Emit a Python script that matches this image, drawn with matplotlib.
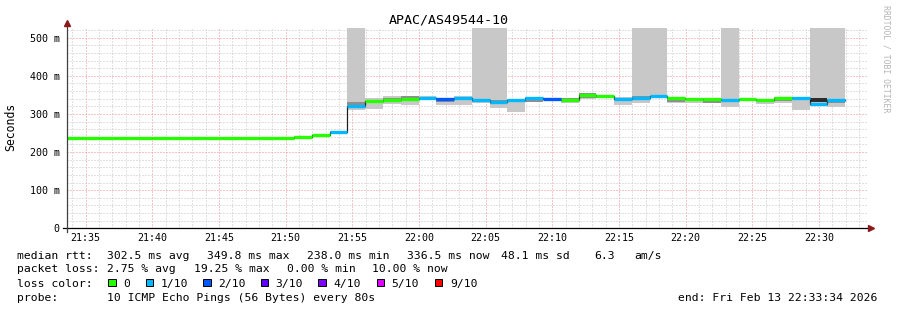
import numpy as np
import matplotlib
matplotlib.use("Agg")
import matplotlib.pyplot as plt
from matplotlib.patches import Rectangle

# ---------------- data ----------------
title = "APAC/AS49544-10"
y_label = "Seconds"
watermark = "RRDTOOL / TOBI OETIKER"
graph_start = "21:33:34"
graph_seconds = 3600
first_bin_start = "21:33:18"
bin_seconds = 80
y_max_ms = 526
y_ticks_ms = [0, 100, 200, 300, 400, 500]
x_tick_labels = ["21:35", "21:40", "21:45", "21:50", "21:55", "22:00",
                 "22:05", "22:10", "22:15", "22:20", "22:25", "22:30"]

median_ms = [238.0, 238.0, 238.0, 238.0, 238.0, 238.0, 238.0, 238.0, 238.0, 238.0,
             238.0, 238.0, 238.0, 239.5, 244.0, 252.0, 320.0, 333.0, 337.0, 339.0,
             341.0, 339.0, 343.0, 337.0, 331.0, 336.0, 341.0, 340.0, 336.0, 349.8,
             346.0, 340.0, 341.0, 346.0, 342.0, 339.0, 339.0, 337.0, 338.0, 337.0,
             341.0, 341.0, 327.0, 336.5]
lost_pings = [0, 0, 0, 0, 0, 0, 0, 0, 0, 0,
              0, 0, 0, 0, 0, 1, 1, 0, 0, 0,
              1, 2, 1, 1, 1, 1, 1, 2, 0, 0,
              0, 1, 1, 1, 0, 0, 0, 1, 0, 0,
              0, 1, 1, 1]
smoke_lo_ms = [238, 238, 238, 238, 238, 238, 238, 238, 238, 238,
               238, 238, 238, 238, 242, 250, 310, 313, 326, 323,
               336, 323, 323, 330, 316, 306, 331, 336, 330, 339,
               342, 323, 330, 342, 328, 330, 330, 319, 335, 325,
               330, 310, 320, 319]
smoke_hi_ms = [238, 238, 238, 238, 238, 238, 238, 238, 238, 238,
               238, 238, 238, 241, 246, 254, 331, 341, 347, 347,
               346, 341, 348, 340, 336, 340, 344, 342, 343, 355,
               349, 344, 346, 349, 344, 342, 343, 338, 341, 339,
               344, 345, 341, 339]
core_lo_ms = [238, 238, 238, 238, 238, 238, 238, 238, 238, 238,
              238, 238, 238, 239, 244, 252, 323, 333, 335, 337,
              341, 332, 343, 332, 326, 336, 332, 340, 336, 341,
              342, 340, 336, 346, 332, 339, 330, 333, 338, 337,
              333, 341, 331, 330]
core_hi_ms = [238, 238, 238, 238, 238, 238, 238, 238, 238, 238,
              238, 238, 238, 239, 244, 252, 331, 333, 342, 347,
              341, 340, 343, 340, 336, 336, 338, 340, 343, 355,
              347, 340, 346, 346, 340, 339, 337, 338, 338, 337,
              340, 341, 341, 336]
offscale = [False] * 16 + [True] + [False] * 6 + [True, True] + [False] * 7 + \
           [True, True] + [False] * 3 + [True] + [False] * 4 + [True, True]
core_shade_override = {42: "#2c2c2c"}

loss_labels = ["0", "1/10", "2/10", "3/10", "4/10", "5/10", "9/10"]
loss_levels = [0, 1, 2, 3, 4, 5, 9]
loss_colors = ["#26ff00", "#00b8ff", "#0059ff", "#5e00ff", "#7e00ff", "#dd00ff", "#ff0000"]

rtt_items = ["302.5 ms avg", "349.8 ms max", "238.0 ms min", "336.5 ms now",
             "48.1 ms sd", "6.3", "am/s"]
loss_items = ["2.75 % avg", "19.25 % max", "0.00 % min", "10.00 % now"]
probe_text = "10 ICMP Echo Pings (56 Bytes) every 80s"
end_text = "end: Fri Feb 13 22:33:34 2026"

# ---------------- layout ----------------
W, H = 897, 310
MONO = "DejaVu Sans Mono"
plt.rcParams["font.family"] = MONO


def hms(s):
    p = [int(v) for v in s.split(":")]
    while len(p) < 3:
        p.append(0)
    return p[0] * 3600 + p[1] * 60 + p[2]


def fx(x):
    return x / W


def fy(y):
    return 1 - y / H


t0 = hms(graph_start)
fig = plt.figure(figsize=(W / 100, H / 100), dpi=100, facecolor="white")
ax_left, ax_right, ax_bottom, ax_top = 66.6, 866.6, 228.3, 27.8
ax = fig.add_axes([fx(ax_left), fy(ax_bottom), (ax_right - ax_left) / W,
                   (ax_bottom - ax_top) / H])
ax.set_facecolor("white")
ax.set_xlim(0, graph_seconds)
ax.set_ylim(0, y_max_ms)
for s in ax.spines.values():
    s.set_visible(False)

# grid
major_x = [hms(l) - t0 for l in x_tick_labels]
first_min = (60 - t0 % 60) % 60
minor_x = np.arange(first_min, graph_seconds, 60)
ax.set_xticks(major_x)
ax.set_xticklabels(x_tick_labels)
ax.set_xticks(minor_x, minor=True)
ax.set_yticks(y_ticks_ms)
ax.set_yticklabels([("%d m" % v) if v else "0" for v in y_ticks_ms])
ax.set_yticks(np.arange(0, y_max_ms, 20), minor=True)
ax.tick_params(which="both", length=0)
ax.tick_params(axis="x", pad=3.5, labelsize=7.2)
ax.tick_params(axis="y", pad=5, labelsize=7.2)
ax.grid(which="minor", color="#c4c4c4", linestyle=(0, (1, 2)), linewidth=0.72, zorder=0)
ax.grid(which="major", color="#ee8c8c", linestyle=(0, (1, 2)), linewidth=0.72, zorder=0)
ax.set_axisbelow(True)

# data
starts = np.array([hms(first_bin_start) - t0 + i * bin_seconds for i in range(len(median_ms))], dtype=float)
med = np.array(median_ms)
lo = np.array(smoke_lo_ms, dtype=float)
hi = np.array(smoke_hi_ms, dtype=float)
clo = np.array(core_lo_ms, dtype=float)
chi = np.array(core_hi_ms, dtype=float)
off = np.array(offscale)

top = np.where(off, y_max_ms + 10, hi)
ax.bar(starts, top - lo, bottom=lo, width=bin_seconds, align="edge",
       color="#c8c8c8", linewidth=0, zorder=2)
core_cols = [core_shade_override.get(i, "#8e8e8e") for i in range(len(med))]
ax.bar(starts, chi - clo, bottom=clo, width=bin_seconds, align="edge",
       color=core_cols, linewidth=0, zorder=3)

edges = np.append(starts, starts[-1] + bin_seconds)
ax.step(edges, np.append(med, med[-1]), where="post", color="#202020",
        linewidth=0.9, zorder=4)


def loss_color(n):
    for lev, c in zip(loss_levels, loss_colors):
        if n <= lev:
            return c
    return loss_colors[-1]


ax.hlines(med, starts, starts + bin_seconds,
          colors=[loss_color(n) for n in lost_pings], linewidth=2.4, zorder=5)

# axes lines + arrows
axw = ax_right - ax_left
axh = ax_bottom - ax_top
ax.plot([-(4 / axw), (870 - ax_left) / axw], [0, 0], transform=ax.transAxes,
        color="black", linewidth=0.9, clip_on=False, zorder=6)
ax.plot([0, 0], [-(4 / axh), (ax_bottom - 23) / axh], transform=ax.transAxes,
        color="#404040", linewidth=0.9, clip_on=False, zorder=6)
ax.plot([(870.5 - ax_left) / axw], [0], marker=">", markersize=4.2,
        color="#8b1a1a", transform=ax.transAxes, clip_on=False, zorder=7)
ax.plot([0], [(ax_bottom - 23) / axh], marker="^", markersize=4.2,
        color="#8b1a1a", transform=ax.transAxes, clip_on=False, zorder=7)

# texts
fig.text(fx(448.5), fy(20), title, ha="center", va="center", fontsize=9.6)
fig.text(fx(11), fy(127), y_label, ha="center", va="center", rotation=90, fontsize=8.3)
fig.text(fx(886), fy(5), watermark, ha="center", va="top", rotation=-90,
         fontsize=5.9, color="#b4b4b4")

LFS = 8.2
BL = 4.1  # baseline offset below visual centre, px
y1, y2, y3, y4 = 254.5, 268.3, 282.5, 296.5


def legend_text(x, y, s):
    fig.text(fx(x), fy(y + BL), s, va="baseline", fontsize=LFS)


legend_text(16.7, y1, "median rtt:")
for x, s in zip([107.3, 207.3, 307.3, 407.3, 501, 594, 634.3], rtt_items):
    legend_text(x, y1, s)
legend_text(16.7, y2, "packet loss:")
for x, s in zip([107.3, 194, 286.7, 372.3], loss_items):
    legend_text(x, y2, s)
legend_text(16.7, y3, "loss color:")
box_x = [108.3, 145.7, 203.3, 260.7, 318.3, 376.7, 435.0]
for bx, lab, c in zip(box_x, loss_labels, loss_colors):
    fig.add_artist(Rectangle((fx(bx), fy(y3 + 3.7)), 7.3 / W, 7.3 / H,
                             transform=fig.transFigure, facecolor=c,
                             edgecolor="black", linewidth=0.7))
    legend_text(bx + 15, y3, lab)
legend_text(16.7, y4, "probe:")
legend_text(107.3, y4, probe_text)
legend_text(677.7, y4, end_text)

fig.savefig("out.png", dpi=100, facecolor="white")
